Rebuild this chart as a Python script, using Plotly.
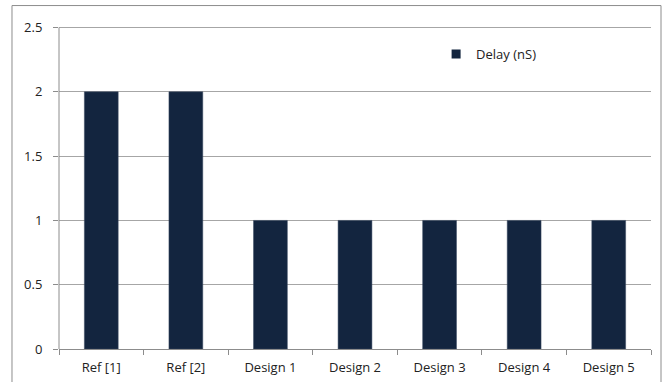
import plotly.graph_objects as go

categories = ["Ref [1]", "Ref [2]", "Design 1", "Design 2", "Design 3", "Design 4", "Design 5"]
delay_ns = [2, 2, 1, 1, 1, 1, 1]
series_name = "Delay (nS)"
y_ticks = [0, 0.5, 1, 1.5, 2, 2.5]
y_tick_labels = ["0", "0.5", "1", "1.5", "2", "2.5"]
y_max = 2.5

font_family = "Open Sans, Noto Sans, sans-serif"
bar_color = "#13253f"
grid_color = "#a6a6a6"

fig = go.Figure()
fig.add_trace(go.Bar(
    x=categories, y=delay_ns, name=series_name,
    marker=dict(color=bar_color, line=dict(color="#3a4a63", width=0.5)),
    showlegend=False,
))
# legend entry with a small square swatch
fig.add_trace(go.Scatter(
    x=[None], y=[None], mode="markers", name=series_name,
    marker=dict(symbol="square", size=9, color=bar_color),
    showlegend=True,
))

fig.update_layout(
    width=667, height=382,
    margin=dict(l=59, r=16, t=25, b=33),
    paper_bgcolor="white", plot_bgcolor="white",
    bargap=0.6,
    font=dict(family=font_family, size=13, color="#222"),
    showlegend=True,
    legend=dict(x=0.637, y=0.91, xanchor="left", yanchor="middle",
                bgcolor="rgba(0,0,0,0)", font=dict(size=13, color="#222"),
                itemwidth=30, itemsizing="trace"),
    xaxis=dict(
        showline=True, linecolor="#8c8c8c", linewidth=1,
        ticks="outside", tickson="boundaries", ticklen=5, tickcolor="#8c8c8c",
        showgrid=False, tickfont=dict(size=13, color="#222"),
        ticklabelstandoff=6, automargin=False,
    ),
    yaxis=dict(
        range=[0, 2.52], tickvals=y_ticks, ticktext=y_tick_labels,
        showline=False,
        ticks="outside", ticklen=5, tickcolor="#8c8c8c",
        showgrid=True, gridcolor=grid_color, gridwidth=1,
        zeroline=False, tickfont=dict(size=13, color="#222"),
        ticklabelstandoff=8, automargin=False,
    ),
    shapes=[
        dict(type="rect", xref="paper", yref="paper",
             x0=-0.0794, x1=1.0169, y0=-0.15, y1=1.06,
             line=dict(color="#8c8c8c", width=1), layer="below"),
        # y axis line from 0 up to the top tick only
        dict(type="line", xref="paper", yref="y",
             x0=0, x1=0, y0=0, y1=y_max,
             line=dict(color="#8c8c8c", width=1), layer="above"),
    ],
)

fig.write_html("out.html")
